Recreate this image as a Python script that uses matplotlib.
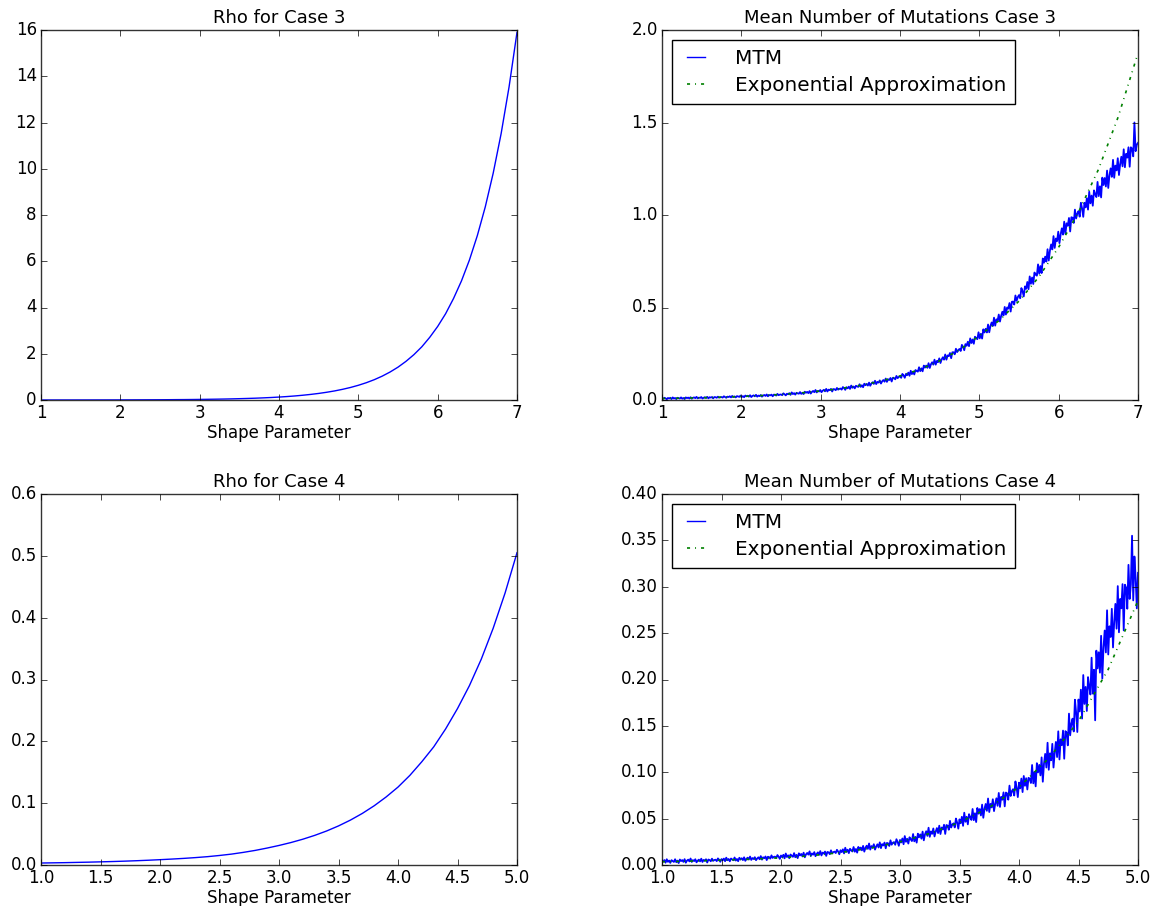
import numpy as np
import matplotlib
matplotlib.use("Agg")
import matplotlib.pyplot as plt

plt.style.use("classic")
plt.rcParams["figure.facecolor"] = "white"
plt.rcParams["savefig.facecolor"] = "white"
plt.rcParams["font.family"] = ["DejaVu Sans"]

# ---------------- data ----------------
# Rho for Case 3 (x = 1.0 .. 7.0 step 0.1)
rho3_start, rho3_stop = 1.0, 7.0
rho3_y = [0.0010, 0.0012, 0.0014, 0.0017, 0.0019, 0.0023, 0.0027, 0.0032, 0.0037, 0.0043,
          0.0051, 0.0060, 0.0070, 0.0083, 0.0097, 0.011, 0.013, 0.016, 0.018, 0.021,
          0.025, 0.030, 0.035, 0.041, 0.048, 0.057, 0.067, 0.078, 0.092, 0.108,
          0.127, 0.149, 0.175, 0.206, 0.242, 0.284, 0.334, 0.392, 0.461, 0.541,
          0.636, 0.747, 0.877, 1.03, 1.21, 1.42, 1.67, 1.96, 2.30, 2.71,
          3.18, 3.73, 4.39, 5.15, 6.05, 7.11, 8.35, 9.81, 11.52, 13.54, 15.9]

# Rho for Case 4 (x = 1.0 .. 5.0 step 0.1)
rho4_start, rho4_stop = 1.0, 5.0
rho4_y = [0.0032, 0.0035, 0.0038, 0.0042, 0.0046, 0.0051, 0.0056, 0.0062, 0.0069, 0.0077,
          0.0086, 0.0096, 0.0107, 0.0120, 0.0135, 0.0154, 0.0176, 0.0204, 0.0236, 0.0274,
          0.0316, 0.0363, 0.0417, 0.0479, 0.0550, 0.0632, 0.0726, 0.0834, 0.0958, 0.110,
          0.126, 0.145, 0.167, 0.191, 0.220, 0.253, 0.290, 0.333, 0.383, 0.440, 0.505]

# Mean number of mutations, Case 3: MTM (x = 1.000 .. 7.000 step 0.015)
mtm3_start, mtm3_stop = 1.0, 7.0
mtm3_y = [
    .009, .006, .012, .009, .004, .011, .008, .012, .005, .014,
    .008, .011, .005, .012, .010, .008, .014, .007, .011, .005,
    .014, .010, .013, .008, .015, .007, .012, .014, .010, .017,
    .009, .013, .011, .016, .008, .012, .015, .011, .017, .009,
    .015, .013, .016, .009, .016, .015, .012, .018, .013, .015,
    .016, .013, .020, .016, .012, .018, .016, .020, .014, .022,
    .016, .019, .014, .021, .019, .017, .024, .016, .021, .015,
    .024, .020, .023, .018, .026, .016, .022, .025, .020, .028,
    .018, .024, .021, .027, .018, .024, .027, .022, .030, .020,
    .027, .025, .029, .020, .029, .028, .024, .033, .026, .029,
    .030, .026, .036, .031, .025, .034, .031, .037, .028, .041,
    .032, .037, .029, .039, .036, .034, .043, .033, .039, .032,
    .045, .039, .044, .037, .048, .035, .044, .049, .042, .054,
    .041, .049, .046, .054, .042, .050, .055, .047, .060, .046,
    .056, .053, .060, .046, .059, .058, .053, .065, .056, .060,
    .062, .056, .070, .064, .055, .069, .063, .072, .060, .078,
    .066, .073, .063, .077, .073, .071, .085, .071, .080, .069,
    .088, .080, .087, .078, .094, .077, .089, .096, .087, .104,
    .086, .098, .094, .106, .089, .101, .108, .099, .116, .098,
    .112, .108, .119, .100, .120, .119, .112, .130, .118, .125,
    .128, .120, .141, .133, .120, .141, .134, .148, .131, .158,
    .140, .153, .138, .162, .157, .153, .177, .156, .171, .155,
    .186, .175, .186, .174, .199, .173, .193, .204, .191, .218,
    .191, .211, .205, .225, .200, .219, .231, .218, .246, .218,
    .241, .237, .254, .226, .258, .258, .247, .277, .259, .270,
    .276, .265, .298, .287, .269, .302, .293, .315, .291, .333,
    .308, .327, .304, .342, .334, .329, .366, .333, .358, .332,
    .382, .365, .385, .365, .408, .366, .400, .419, .400, .445,
    .402, .436, .428, .462, .424, .455, .477, .457, .503, .462,
    .500, .494, .524, .478, .531, .532, .516, .565, .536, .556,
    .567, .550, .605, .588, .560, .614, .601, .638, .599, .668,
    .628, .662, .627, .689, .678, .672, .733, .683, .724, .686,
    .765, .742, .775, .748, .815, .754, .808, .841, .814, .886,
    .822, .873, .859, .910, .848, .895, .928, .894, .964, .898,
    .955, .942, .984, .911, .988, .985, .957, 1.029, .981, 1.008,
    1.021, .991, 1.066, 1.036, .990, 1.066, 1.041, 1.091, 1.029, 1.126,
    1.063, 1.105, 1.050, 1.133, 1.112, 1.097, 1.179, 1.102, 1.155, 1.095,
    1.202, 1.162, 1.200, 1.154, 1.240, 1.146, 1.214, 1.252, 1.206, 1.298,
    1.201, 1.267, 1.241, 1.307, 1.216, 1.275, 1.315, 1.263, 1.355, 1.258,
    1.331, 1.310, 1.366, 1.261, 1.366, 1.359, 1.317, 1.500, 1.345, 1.380,
    1.390,
]
# Case 3: exponential approximation (x = 1.0 .. 7.0 step 0.25)
exp3_x = [1.0, 1.25, 1.5, 1.75, 2.0, 2.25, 2.5, 2.75, 3.0, 3.25, 3.5, 3.75, 4.0,
          4.25, 4.5, 4.75, 5.0, 5.25, 5.5, 5.75, 6.0, 6.25, 6.5, 6.75, 7.0]
exp3_y = [0.008, 0.010, 0.012, 0.015, 0.019, 0.024, 0.030, 0.038, 0.049, 0.062, 0.079,
          0.101, 0.130, 0.165, 0.212, 0.271, 0.347, 0.430, 0.535, 0.665, 0.826, 1.015,
          1.245, 1.530, 1.875]

# Mean number of mutations, Case 4: MTM (x = 1.00 .. 5.00 step 0.01)
mtm4_start, mtm4_stop = 1.0, 5.0
mtm4_y = [
    .0049, .0036, .0053, .0025, .0062, .0034, .0048, .0023, .0052, .0042,
    .0033, .0062, .0030, .0047, .0021, .0059, .0042, .0053, .0034, .0063,
    .0025, .0047, .0058, .0039, .0070, .0033, .0053, .0042, .0062, .0029,
    .0047, .0058, .0039, .0068, .0033, .0055, .0046, .0062, .0027, .0059,
    .0054, .0040, .0068, .0045, .0054, .0057, .0042, .0071, .0056, .0035,
    .0064, .0051, .0069, .0041, .0079, .0051, .0065, .0040, .0070, .0060,
    .0051, .0081, .0048, .0065, .0041, .0078, .0061, .0073, .0053, .0083,
    .0045, .0067, .0079, .0060, .0091, .0055, .0075, .0064, .0084, .0052,
    .0070, .0083, .0062, .0096, .0058, .0083, .0073, .0092, .0053, .0089,
    .0085, .0069, .0104, .0076, .0088, .0090, .0076, .0107, .0090, .0066,
    .0102, .0085, .0110, .0072, .0124, .0086, .0104, .0073, .0113, .0099,
    .0088, .0128, .0084, .0109, .0074, .0126, .0103, .0119, .0093, .0133,
    .0083, .0114, .0130, .0112, .0147, .0097, .0125, .0111, .0139, .0095,
    .0120, .0136, .0110, .0150, .0103, .0134, .0123, .0145, .0098, .0141,
    .0136, .0117, .0158, .0126, .0139, .0144, .0129, .0164, .0145, .0116,
    .0159, .0139, .0169, .0125, .0186, .0142, .0165, .0128, .0175, .0159,
    .0146, .0194, .0143, .0173, .0133, .0195, .0168, .0188, .0158, .0206,
    .0144, .0186, .0208, .0174, .0232, .0166, .0204, .0186, .0224, .0166,
    .0200, .0223, .0189, .0244, .0182, .0225, .0211, .0242, .0180, .0238,
    .0234, .0205, .0266, .0219, .0240, .0247, .0218, .0278, .0249, .0207,
    .0270, .0243, .0286, .0224, .0312, .0250, .0283, .0231, .0299, .0277,
    .0258, .0334, .0255, .0303, .0241, .0338, .0299, .0330, .0284, .0360,
    .0266, .0330, .0364, .0314, .0402, .0304, .0362, .0336, .0394, .0308,
    .0360, .0398, .0344, .0424, .0334, .0404, .0383, .0434, .0335, .0431,
    .0424, .0380, .0476, .0404, .0437, .0449, .0405, .0501, .0457, .0392,
    .0492, .0450, .0520, .0422, .0564, .0466, .0520, .0438, .0548, .0514,
    .0486, .0604, .0483, .0558, .0463, .0615, .0553, .0603, .0534, .0651,
    .0509, .0606, .0658, .0584, .0717, .0571, .0659, .0621, .0709, .0581,
    .0660, .0719, .0638, .0777, .0626, .0735, .0704, .0783, .0632, .0781,
    .0772, .0704, .0856, .0744, .0797, .0817, .0749, .0901, .0833, .0732,
    .0888, .0826, .0932, .0786, .0960, .0854, .0936, .0814, .0940, .0930,
    .0884, .1078, .0880, .1004, .0848, .1098, .0998, .1080, .0966, .1160,
    .0898, .1093, .1198, .1051, .1318, .1027, .1204, .1129, .1306, .1051,
    .1210, .1327, .1164, .1441, .1138, .1355, .1292, .1449, .1146, .1443,
    .1428, .1290, .1632, .1398, .1524, .1578, .1440, .1782, .1644, .1434,
    .1784, .1655, .1890, .1579, .2048, .1737, .1920, .1661, .2026, .1923,
    .1838, .2235, .1848, .2105, .1560, .2311, .2120, .2293, .2074, .2471,
    .2010, .2344, .2528, .2292, .2746, .2270, .2574, .2458, .2762, .2346,
    .2620, .2815, .2548, .3007, .2509, .2869, .2767, .3028, .2530, .3022,
    .2990, .2763, .3236, .2869, .3027, .3550, .2853, .3326, .3099, .2767,
    .3150,
]
# Case 4: exponential approximation (x = 1.0 .. 5.0 step 0.25)
exp4_x = [1.0, 1.25, 1.5, 1.75, 2.0, 2.25, 2.5, 2.75, 3.0, 3.25, 3.5, 3.75, 4.0,
          4.25, 4.5, 4.75, 5.0]
exp4_y = [0.0035, 0.0042, 0.0052, 0.0062, 0.0078, 0.0100, 0.0134, 0.0181, 0.025,
          0.034, 0.046, 0.062, 0.084, 0.115, 0.155, 0.211, 0.285]

titles = ["Rho for Case 3", "Mean Number of Mutations Case 3",
          "Rho for Case 4", "Mean Number of Mutations Case 4"]
xlabel = "Shape Parameter"
legend_labels = ["MTM", "Exponential Approximation"]

# ---------------- figure ----------------
W, H = 1156, 906
fig = plt.figure(figsize=(W / 100, H / 100), dpi=100)

def axes_px(x0, y0, x1, y1):
    return fig.add_axes([x0 / W, 1 - y1 / H, (x1 - x0) / W, (y1 - y0) / H])

ax1 = axes_px(41, 30, 517, 400)
ax2 = axes_px(662, 30, 1138, 400)
ax3 = axes_px(41, 494, 517, 865)
ax4 = axes_px(662, 494, 1138, 865)

blue = "#0000ff"
green = "#008000"
dashdot = (0, (2.2, 3.6, 0.7, 3.6))

rho3_x = np.linspace(rho3_start, rho3_stop, len(rho3_y))
ax1.plot(rho3_x, rho3_y, color=blue, lw=1.0)
ax1.set_xlim(1, 7)
ax1.set_ylim(0, 16)
ax1.set_yticks(range(0, 17, 2))

mtm3_x = np.linspace(mtm3_start, mtm3_stop, len(mtm3_y))
ax2.plot(mtm3_x, mtm3_y, color=blue, lw=1.3, label=legend_labels[0])
ax2.plot(exp3_x, exp3_y, color=green, lw=1.2, linestyle=dashdot, label=legend_labels[1])
ax2.set_xlim(1, 7)
ax2.set_ylim(0, 2.0)
ax2.set_yticks([0.0, 0.5, 1.0, 1.5, 2.0])

rho4_x = np.linspace(rho4_start, rho4_stop, len(rho4_y))
ax3.plot(rho4_x, rho4_y, color=blue, lw=1.0)
ax3.set_xlim(1, 5)
ax3.set_ylim(0, 0.6)
ax3.set_yticks([0.0, 0.1, 0.2, 0.3, 0.4, 0.5, 0.6])

mtm4_x = np.linspace(mtm4_start, mtm4_stop, len(mtm4_y))
ax4.plot(mtm4_x, mtm4_y, color=blue, lw=1.3, label=legend_labels[0])
ax4.plot(exp4_x, exp4_y, color=green, lw=1.2, linestyle=dashdot, label=legend_labels[1])
ax4.set_xlim(1, 5)
ax4.set_ylim(0, 0.40)
ax4.set_yticks([0.00, 0.05, 0.10, 0.15, 0.20, 0.25, 0.30, 0.35, 0.40])

for ax in (ax1, ax2):
    ax.set_xticks(range(1, 8))
for ax in (ax3, ax4):
    ax.set_xticks([1.0, 1.5, 2.0, 2.5, 3.0, 3.5, 4.0, 4.5, 5.0])

for ax, t in zip((ax1, ax2, ax3, ax4), titles):
    ax.set_title(t, fontsize=13, pad=5)
    ax.set_xlabel(xlabel, fontsize=12, labelpad=1)
    ax.tick_params(labelsize=12, direction="in", top=True, right=True, pad=3)
    for s in ax.spines.values():
        s.set_color("#333333")

for ax in (ax2, ax4):
    leg = ax.legend(loc="upper left", fontsize=14.4, numpoints=2, handlelength=1.5,
                    handletextpad=1.2, borderpad=0.45, labelspacing=0.4,
                    fancybox=False, shadow=False, framealpha=1.0)
    leg.get_frame().set_edgecolor("black")
    leg.get_frame().set_linewidth(1.0)
    leg.get_lines()[0].set_linewidth(1.0)

fig.savefig("out.png", dpi=100)
